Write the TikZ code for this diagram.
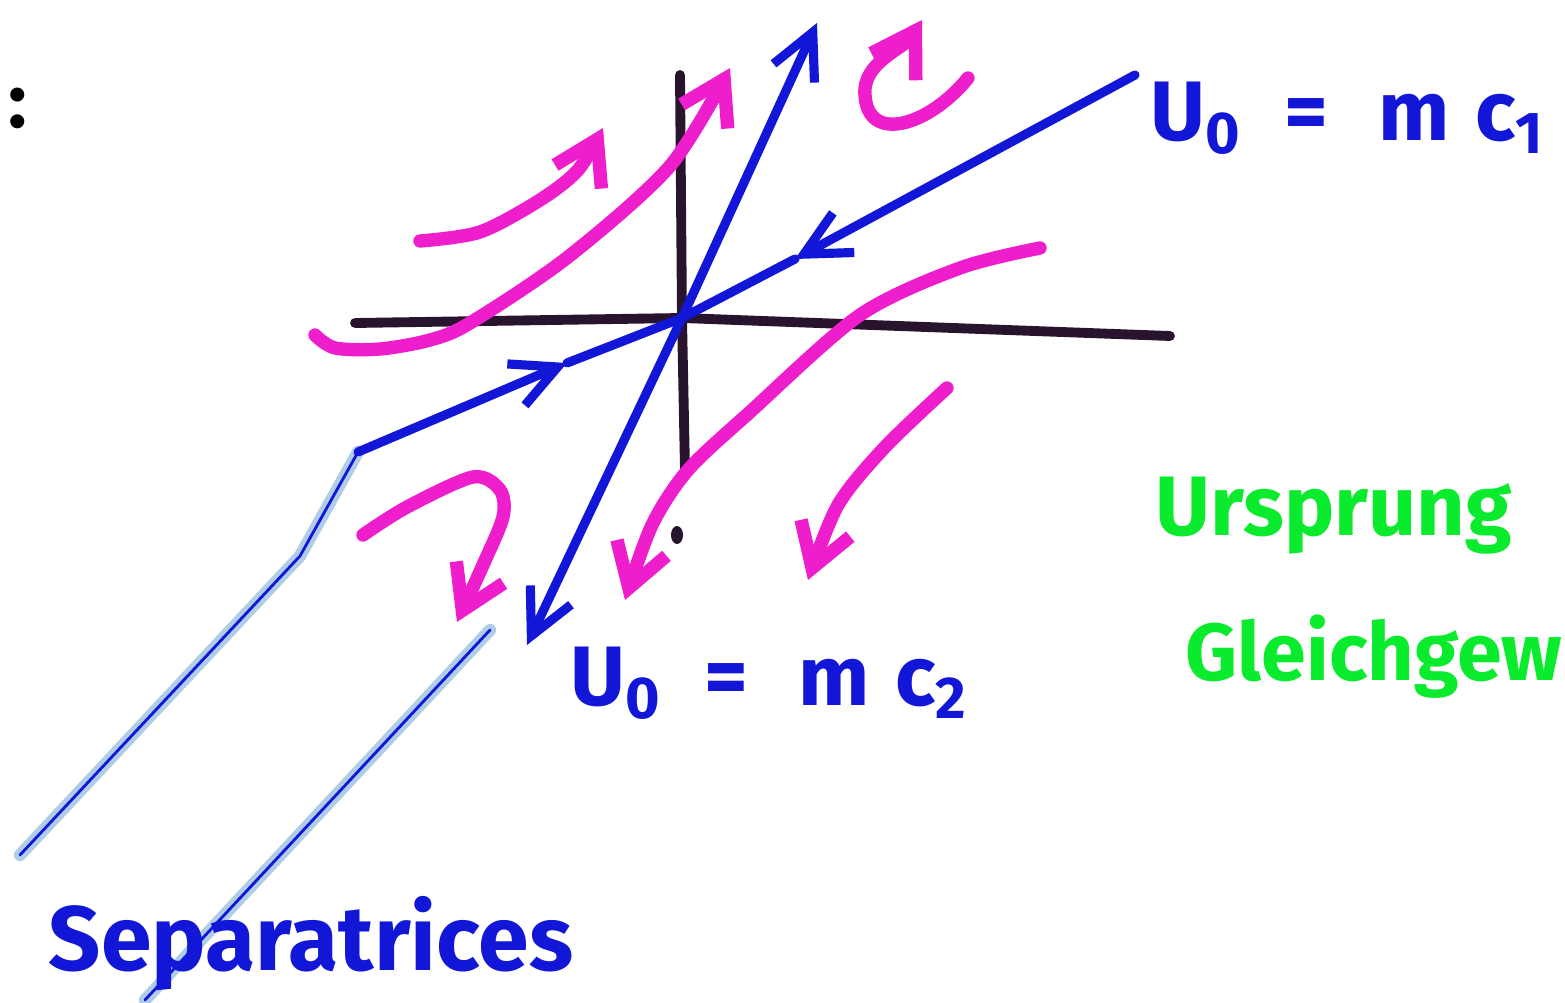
\documentclass[tikz,border=0pt]{standalone}
\usepackage{fontspec}
\setmainfont{Fira Sans}
\usetikzlibrary{arrows.meta}
\definecolor{penblue}{RGB}{18,22,215}
\definecolor{penpink}{RGB}{238,30,205}
\definecolor{pengreen}{RGB}{10,235,45}
\definecolor{penblack}{RGB}{40,20,45}
\definecolor{halo}{RGB}{175,205,230}

\begin{document}
\begin{tikzpicture}[x=0.01cm,y=-0.01cm,line cap=round,line join=round,
  ax/.style={draw=penblack,line width=2.8pt},
  sep/.style={draw=penblue,line width=2.6pt},
  traj/.style={draw=penpink,line width=3.8pt},
  lead/.style={draw=penblue,line width=0.8pt,preaction={draw=halo,line width=3.5pt}},
  tipb/.style={-{Straight Barb[length=4.5mm,width=4.5mm]}},
  tipp/.style={-{Straight Barb[length=4.2mm,width=5.2mm]}},
  lbl/.style={anchor=base west,inner sep=0pt,font=\fontsize{24}{28}\selectfont\bfseries}]
  \useasboundingbox (0,0) rectangle (1565,1003);
  \coordinate (O) at (682,318);
  \coordinate (su) at (817,23);
  \coordinate (sd) at (527,645);
  \coordinate (sr) at (1135,75);
  \coordinate (srm) at (795,259);
  \coordinate (sl) at (358,452);
  \coordinate (slm) at (567,363);
  % pointers of the label
  \draw[lead] (20,855) -- (300,556) -- (sl);
  \draw[lead] (145,1000) -- (490,630);
  % axes
  \draw[ax] (355,323) -- (O) -- (1170,336);
  \draw[ax] (680,75) -- (O) -- (685,470);
  \fill[penblack] (677,535) ellipse [x radius=0.06cm,y radius=0.09cm];
  % separatrices
  \draw[sep,tipb] (O) -- (su);
  \draw[sep,tipb] (O) -- (sd);
  \draw[sep,tipb] (sr) -- (srm);
  \draw[sep] (srm) -- (O);
  \draw[sep,tipb] (sl) -- (slm);
  \draw[sep] (slm) -- (O);
  % trajectories
  \draw[traj,tipp] plot[smooth] coordinates {(420,241) (480,232) (540,200) (578,170) (603,128)};
  \draw[traj,tipp] plot[smooth] coordinates {(315,335) (335,348) (380,349) (430,340) (470,323) (568,257) (670,166) (730,68)};
  \draw[traj,tipp] (968,78) .. controls (930,125) and (868,145) .. (865,95) .. controls (862,62) and (905,48) .. (922,20);
  \draw[traj,tipp] plot[smooth] coordinates {(1040,248) (960,268) (860,315) (750,412) (688,470) (652,525) (625,600)};
  \draw[traj,tipp] plot[smooth] coordinates {(947,388) (885,447) (838,505) (808,580)};
  \draw[traj,tipp] plot[smooth] coordinates {(363,535) (407,507) (473,477) (500,490) (503,517) (483,565) (457,622)};
  % texts
  \node[font=\fontsize{22}{22}\selectfont\bfseries] (colon) at (18,108) {:};
  \node[lbl,text=penblue] (u1) at (1150,140) {U\textsubscript{0}\hspace{0.5em}=\hspace{0.6em}m\hspace{0.3em}c\textsubscript{1}};
  \node[lbl,text=penblue] (u2) at (570,705) {U\textsubscript{0}\hspace{0.5em}=\hspace{0.6em}m\hspace{0.3em}c\textsubscript{2}};
  \node[lbl,text=pengreen] (urs) at (1155,535) {Ursprung};
  \node[lbl,text=pengreen,font=\fontsize{23}{28}\selectfont\bfseries] (glg) at (1185,680) {Gleichgew};
  \node[lbl,text=penblue,font=\fontsize{26}{30}\selectfont\bfseries] (sepl) at (48,970) {Separatrices};
\end{tikzpicture}
\end{document}
